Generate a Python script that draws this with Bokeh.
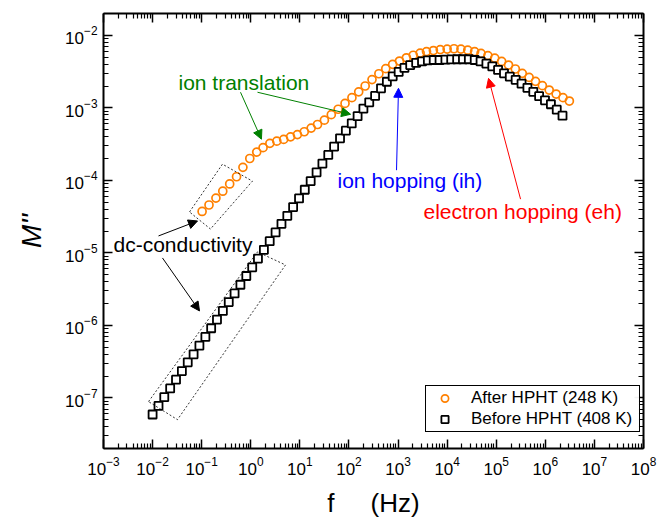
from bokeh.plotting import figure
from bokeh.models import (Range1d, FixedTicker, Label, Arrow, NormalHead,
                          PolyAnnotation, LogAxis)
from bokeh.embed import file_html
from bokeh.resources import INLINE

# ---------------- data ----------------
freq_before = [0.01, 0.0132, 0.0173, 0.0228, 0.0300, 0.0395, 0.0520, 0.0684, 0.0899, 0.119,
               0.156, 0.205, 0.270, 0.356, 0.468, 0.615, 0.811, 1.07, 1.40, 1.85,
               2.43, 3.20, 4.22, 5.55, 7.29, 9.62, 12.6, 16.6, 21.9, 28.8,
               37.9, 49.9, 65.8, 86.5, 114, 150, 197, 259, 341, 450,
               592, 778, 1030, 1350, 1770, 2340, 3080, 4050, 5330, 7010,
               9230, 12100, 16000, 21000, 27700, 36500, 48000, 63100, 83200, 109000,
               144000, 189000, 249000, 328000, 432000, 569000, 748000, 984000, 1300000, 1710000,
               2240000]
m_before = [5.89e-8, 7.76e-8, 1.02e-7, 1.35e-7, 1.78e-7, 2.34e-7, 3.09e-7, 3.98e-7, 5.25e-7, 6.92e-7,
            9.12e-7, 1.20e-6, 1.58e-6, 2.09e-6, 2.75e-6, 3.63e-6, 4.79e-6, 6.31e-6, 8.32e-6, 1.10e-5,
            1.45e-5, 1.91e-5, 2.51e-5, 3.24e-5, 4.27e-5, 5.62e-5, 7.41e-5, 9.77e-5, 1.29e-4, 1.70e-4,
            2.24e-4, 2.92e-4, 3.80e-4, 4.84e-4, 6.10e-4, 7.67e-4, 9.77e-4, 1.19e-3, 1.46e-3, 1.86e-3,
            2.29e-3, 2.72e-3, 3.13e-3, 3.55e-3, 3.89e-3, 4.17e-3, 4.37e-3, 4.52e-3, 4.57e-3, 4.57e-3,
            4.62e-3, 4.65e-3, 4.68e-3, 4.68e-3, 4.68e-3, 4.57e-3, 4.37e-3, 4.07e-3, 3.72e-3, 3.33e-3,
            2.99e-3, 2.69e-3, 2.43e-3, 2.15e-3, 1.89e-3, 1.66e-3, 1.45e-3, 1.27e-3, 1.12e-3, 9.44e-4,
            7.80e-4]

freq_after = [0.102, 0.141, 0.195, 0.269, 0.372, 0.513, 0.692, 0.955, 1.32, 1.78,
              2.45, 3.39, 4.68, 6.46, 8.91, 12.3, 17.0, 22.9, 31.6, 43.7,
              60.3, 83.2, 115, 158, 214, 295, 407, 562, 776, 1070,
              1480, 2040, 2820, 3800, 5250, 7240, 10000, 13800, 19100, 26300,
              36300, 49000, 67600, 93300, 129000, 178000, 245000, 339000, 468000, 631000,
              871000, 1200000, 1660000, 2290000, 3090000]
m_after = [3.72e-5, 4.57e-5, 5.69e-5, 7.08e-5, 8.91e-5, 1.12e-4, 1.51e-4, 2.00e-4, 2.45e-4, 2.82e-4,
           3.24e-4, 3.47e-4, 3.67e-4, 3.98e-4, 4.27e-4, 4.68e-4, 5.25e-4, 5.89e-4, 6.76e-4, 8.04e-4,
           9.55e-4, 1.15e-3, 1.38e-3, 1.66e-3, 2.00e-3, 2.45e-3, 2.95e-3, 3.47e-3, 3.98e-3, 4.42e-3,
           4.90e-3, 5.31e-3, 5.69e-3, 5.96e-3, 6.17e-3, 6.35e-3, 6.46e-3, 6.53e-3, 6.46e-3, 6.24e-3,
           5.96e-3, 5.62e-3, 5.25e-3, 4.84e-3, 4.37e-3, 3.89e-3, 3.43e-3, 2.99e-3, 2.63e-3, 2.32e-3,
           2.02e-3, 1.76e-3, 1.55e-3, 1.38e-3, 1.24e-3]

label_after = "After HPHT (248 K)"
label_before = "Before HPHT (408 K)"
x_title = "f\u00a0\u00a0\u00a0\u00a0\u00a0(Hz)"
y_title = "M''"

x_major = [1e-3, 1e-2, 1e-1, 1e0, 1e1, 1e2, 1e3, 1e4, 1e5, 1e6, 1e7, 1e8]
y_major = [1e-7, 1e-6, 1e-5, 1e-4, 1e-3, 1e-2]
x_minor = [m * t for t in x_major[:-1] for m in range(2, 10)]
y_minor = [m * t for t in [1e-8] + y_major for m in range(2, 10) if 2e-8 <= m * t <= 2e-2]

FONT = "Liberation Sans"
ORANGE = "#FF8000"

p = figure(width=659, height=520, x_axis_type="log", y_axis_type="log",
           x_range=Range1d(1e-3, 1e8), y_range=Range1d(2e-8, 2e-2),
           output_backend="svg", toolbar_location=None,
           min_border_left=103, min_border_right=16, min_border_top=13, min_border_bottom=71)
p.grid.visible = False
p.outline_line_color = None
p.background_fill_color = "white"
p.border_fill_color = "white"

bottom_axis = p.below[0]
left_axis = p.left[0]
top_axis = LogAxis()
right_axis = LogAxis()
p.add_layout(top_axis, "above")
p.add_layout(right_axis, "right")

for ax, major, minor in [(bottom_axis, x_major, x_minor), (top_axis, x_major, x_minor),
                         (left_axis, y_major, y_minor), (right_axis, y_major, y_minor)]:
    ax.ticker = FixedTicker(ticks=major, minor_ticks=minor)
    ax.axis_line_width = 2
    ax.axis_line_color = "black"
    ax.major_tick_line_color = "black"
    ax.minor_tick_line_color = "black"
    ax.major_tick_line_width = 1.5
    ax.minor_tick_line_width = 1.2
    ax.major_tick_in = 9
    ax.major_tick_out = 0
    ax.minor_tick_in = 5
    ax.minor_tick_out = 0
    ax.major_label_text_font = FONT
    ax.major_label_text_color = "black"
    ax.major_label_text_font_size = "17px"

for ax in (top_axis, right_axis):
    ax.major_label_text_font_size = "1px"
    ax.major_label_text_alpha = 0
    ax.major_label_standoff = 0

bottom_axis.major_label_standoff = 8
left_axis.major_label_standoff = 6

bottom_axis.axis_label = x_title
bottom_axis.axis_label_text_font = FONT
bottom_axis.axis_label_text_font_style = "normal"
bottom_axis.axis_label_text_font_size = "26px"
bottom_axis.axis_label_text_color = "black"
bottom_axis.axis_label_standoff = 10

left_axis.axis_label = y_title
left_axis.axis_label_text_font = FONT
left_axis.axis_label_text_font_style = "italic"
left_axis.axis_label_text_font_size = "28px"
left_axis.axis_label_text_color = "black"
left_axis.axis_label_standoff = 15

# ---------------- data series ----------------
p.scatter(freq_after, m_after, marker="circle", size=8, line_color=ORANGE, line_width=1.7,
          fill_color=None, legend_label=label_after)
p.scatter(freq_before, m_before, marker="square", size=8, line_color="black", line_width=1.8,
          fill_color="white", legend_label=label_before)

# ---------------- legend ----------------
lg = p.legend[0]
lg.location = (322, 16)
lg.label_text_font = FONT
lg.label_text_font_size = "17px"
lg.label_text_color = "black"
lg.border_line_color = "black"
lg.border_line_width = 1
lg.border_line_alpha = 1
lg.padding = 2
lg.spacing = 1
lg.margin = 0
lg.glyph_width = 33
lg.glyph_height = 18
lg.label_height = 18
lg.label_width = 166
lg.label_standoff = 10

# ---------------- annotations ----------------
def txt(x, y, s, color):
    p.add_layout(Label(x=x, y=y, text=s, text_align="left", text_baseline="middle",
                       text_font=FONT, text_font_size="21px", text_color=color))

def arrow(x0, y0, x1, y1, color):
    p.add_layout(Arrow(end=NormalHead(size=9, fill_color=color, line_color=color, line_width=1),
                       x_start=x0, y_start=y0, x_end=x1, y_end=y1,
                       line_color=color, line_width=1))

GREEN = "#008000"
txt(0.0337, 2.25e-3, "ion translation", GREEN)
arrow(0.618, 1.64e-3, 1.65, 3.69e-4, GREEN)
arrow(1.37, 1.64e-3, 108, 8.15e-4, GREEN)

txt(1.6e-3, 1.29e-5, "dc-conductivity", "black")
arrow(0.0132, 1.71e-5, 0.0822, 2.75e-5, "black")
arrow(0.0159, 8.5e-6, 0.0904, 1.58e-6, "black")

p.add_layout(PolyAnnotation(xs=[0.0565, 0.265, 1.08, 0.151], ys=[3.66e-5, 1.67e-4, 9.75e-5, 2.13e-5],
                            fill_alpha=0, line_color="black", line_alpha=1, line_dash="2 2",
                            line_width=0.8))
p.add_layout(PolyAnnotation(xs=[8.26e-3, 1.37, 5.10, 0.0321], ys=[8.87e-8, 1.03e-5, 6.8e-6, 5.0e-8],
                            fill_alpha=0, line_color="black", line_alpha=1, line_dash="2 2",
                            line_width=0.8))

txt(58.5, 1.01e-4, "ion hopping (ih)", "#0000FF")
arrow(931, 1.38e-4, 1021, 1.86e-3, "#0000FF")

txt(3300, 3.66e-5, "electron hopping (eh)", "#FF0000")
arrow(3.13e5, 5.5e-5, 6.97e4, 2.55e-3, "#FF0000")

open("out.html", "w").write(file_html(p, INLINE))
